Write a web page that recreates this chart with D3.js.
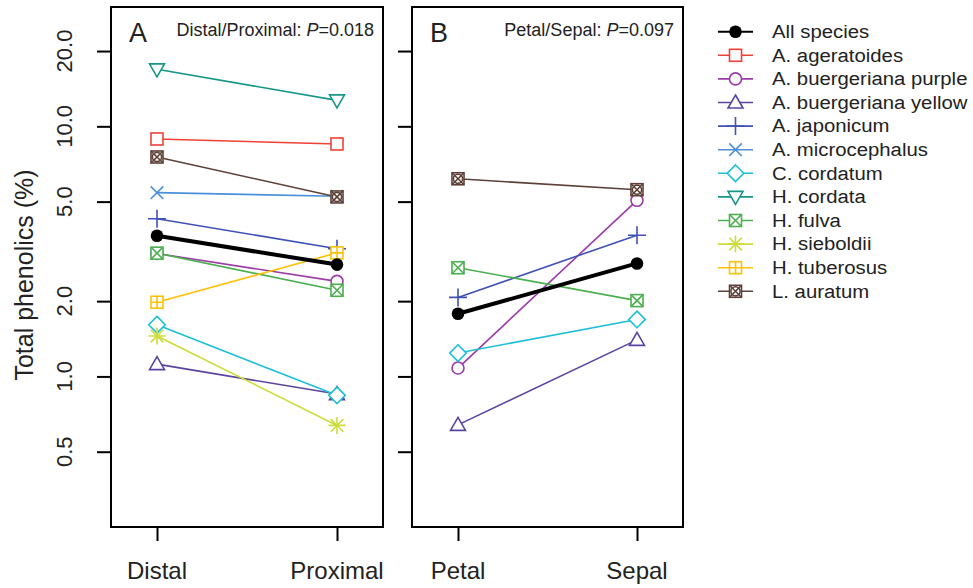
<!DOCTYPE html>
<html><head><meta charset="utf-8">
<script src="https://cdn.jsdelivr.net/npm/d3@7"></script>
<style>body{margin:0;background:#fff}svg{display:block;font-family:"Liberation Sans",Arial,sans-serif}</style>
</head><body><svg id="c" width="973" height="588"></svg>
<script>
const species = ["All species","A. ageratoides","A. buergeriana purple","A. buergeriana yellow","A. japonicum","A. microcephalus","C. cordatum","H. cordata","H. fulva","H. sieboldii","H. tuberosus","L. auratum"];
const colors = ["#000000","#EF4136","#9C3AA8","#5B44A0","#3F51B5","#4A90D9","#1DBFD8","#169688","#4CAF50","#CDDC39","#FFC107","#5D4037"];
const shapes = ["dot","square","circle","triangle","plus","cross","diamond","downtri","squarex","asterisk","squareplus","squarexo"];
const catsA = ["Distal","Proximal"];
const catsB = ["Petal","Sepal"];
// values [first, second]; null = not measured
const valsA = [[3.65,2.80],[8.9,8.5],[3.1,2.40],[1.12,0.85],[4.27,3.24],[5.43,5.25],[1.61,0.84],[16.9,12.7],[3.11,2.21],[1.45,0.637],[1.98,3.12],[7.54,5.22]];
const valsB = [[1.78,2.83],null,[1.08,5.06],[0.64,1.40],[2.07,3.67],null,[1.24,1.69],null,[2.72,2.01],null,null,[6.17,5.58]];
const yTicks = [0.5,1,2,5,10,20];
const yTickLabels = ["0.5","1.0","2.0","5.0","10.0","20.0"];

const svg = d3.select("#c");
const pTop = 7, pBot = 527;
const y = d3.scaleLog().domain([0.25,30]).range([pBot,pTop]);
const ink = "#222";

function marker(g, shape, col, cx, cy){
  const s = 6;
  const m = g.append("g").attr("transform",`translate(${cx},${cy})`).attr("fill","none").attr("stroke",col).attr("stroke-width",1.6);
  if(shape==="dot"){ m.append("circle").attr("r",6.3).attr("fill",col).attr("stroke","none"); }
  if(shape==="square"||shape==="squarex"||shape==="squareplus"||shape==="squarexo"){ m.append("rect").attr("x",-s).attr("y",-s).attr("width",2*s).attr("height",2*s).attr("fill","#fff"); }
  if(shape==="circle"){ m.append("circle").attr("r",6).attr("fill","#fff"); }
  if(shape==="triangle"){ m.append("path").attr("d",`M0,-7.5L7.5,5.5L-7.5,5.5Z`).attr("fill","#fff"); }
  if(shape==="downtri"){ m.append("path").attr("d",`M0,7.5L7.5,-5.5L-7.5,-5.5Z`).attr("fill","#fff"); }
  if(shape==="diamond"){ m.append("path").attr("d",`M0,-8.3L8.3,0L0,8.3L-8.3,0Z`).attr("fill","#fff"); }
  if(shape==="plus"||shape==="squareplus"||shape==="asterisk"){ const r = shape==="squareplus"?s:(shape==="asterisk"?8.5:9); m.append("path").attr("d",`M${-r},0H${r}M0,${-r}V${r}`); }
  if(shape==="cross"||shape==="squarex"||shape==="squarexo"||shape==="asterisk"){ const r = (shape==="cross"||shape==="asterisk")?6.3:s; m.append("path").attr("d",`M${-r},${-r}L${r},${r}M${-r},${r}L${r},${-r}`); }
  if(shape==="squarexo"){ m.append("circle").attr("r",4.6); }
}

function panel(cats, vals, xr, left, right, letter, label, pval, showLabels){
  const x = d3.scalePoint().domain(cats).range(xr);
  const g = svg.append("g");
  const ya = d3.axisLeft(y).tickValues(yTicks).tickFormat("").tickSize(14).tickSizeOuter(0);
  const yg = g.append("g").attr("transform",`translate(${left},0)`).call(ya);
  yg.select(".domain").remove();
  yg.selectAll("line").attr("stroke","#000").attr("stroke-width",2);
  if(showLabels){
    yTicks.forEach((t,i)=>{
      g.append("text").attr("transform",`translate(72,${y(t)}) rotate(-90)`).attr("text-anchor","middle").attr("font-size",22).attr("fill",ink).text(yTickLabels[i]);
    });
  }
  const xa = d3.axisBottom(x).tickSize(14).tickFormat("");
  const xg = g.append("g").attr("transform",`translate(0,${pBot})`).call(xa);
  xg.select(".domain").remove();
  xg.selectAll("line").attr("stroke","#000").attr("stroke-width",2);
  cats.forEach(c=>{
    g.append("text").attr("x",x(c)).attr("y",579).attr("text-anchor","middle").attr("font-size",24).attr("fill",ink).text(c);
  });
  const order = d3.range(1,species.length).concat([0]);
  order.forEach(i=>{
    const v = vals[i]; if(!v) return;
    g.append("line").attr("x1",x(cats[0])).attr("y1",y(v[0])).attr("x2",x(cats[1])).attr("y2",y(v[1]))
      .attr("stroke",colors[i]).attr("stroke-width", i===0?4:1.6);
  });
  order.forEach(i=>{
    const v = vals[i]; if(!v) return;
    marker(g, shapes[i], colors[i], x(cats[0]), y(v[0]));
    marker(g, shapes[i], colors[i], x(cats[1]), y(v[1]));
  });
  g.append("rect").attr("x",left).attr("y",pTop).attr("width",right-left).attr("height",pBot-pTop).attr("fill","none").attr("stroke","#000").attr("stroke-width",2);
  g.append("text").attr("x",left+18).attr("y",42).attr("font-size",27).attr("fill",ink).text(letter);
  const t = g.append("text").attr("x",right-9).attr("y",36).attr("text-anchor","end").attr("font-size",18).attr("fill",ink);
  t.append("tspan").text(label+": ");
  t.append("tspan").attr("font-style","italic").text("P");
  t.append("tspan").text("="+pval);
}

panel(catsA, valsA, [157,337], 111, 383, "A", "Distal/Proximal", "0.018", true);
panel(catsB, valsB, [458,637], 412, 683, "B", "Petal/Sepal", "0.097", false);

svg.append("text").attr("transform",`translate(33,${(pTop+pBot)/2+8}) rotate(-90)`).attr("text-anchor","middle").attr("font-size",25).attr("fill",ink).text("Total phenolics (%)");

const lg = svg.append("g");
species.forEach((s,i)=>{
  const cy = 31.7 + i*23.6;
  lg.append("line").attr("x1",718).attr("x2",753).attr("y1",cy).attr("y2",cy).attr("stroke",colors[i]).attr("stroke-width",i===0?2:1.6);
  marker(lg, shapes[i], colors[i], 735.5, cy);
  lg.append("text").attr("transform",`translate(772,${cy+6.3}) scale(1.13,1)`).attr("font-size",18).attr("fill",ink).text(s);
});
</script></body></html>
